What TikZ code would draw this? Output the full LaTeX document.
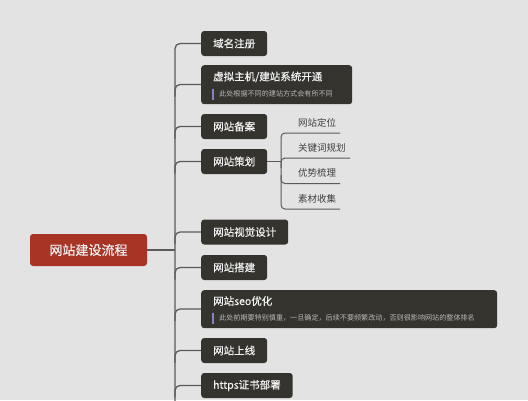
\documentclass[tikz,border=0pt]{standalone}
\usepackage{fontspec}
\newfontfamily\cjk{Noto Sans CJK SC}
\newfontfamily\cjkb[FakeBold=0.5]{Noto Sans CJK SC}
\definecolor{bg}{HTML}{E3E3E3}
\definecolor{nodefill}{HTML}{34332E}
\definecolor{rootfill}{HTML}{A83426}
\definecolor{linec}{HTML}{5A5A5A}
\definecolor{titlec}{HTML}{F2F2F2}
\definecolor{subc}{HTML}{B8B8B8}
\definecolor{barc}{HTML}{8484C4}
\definecolor{leafc}{HTML}{3E3E3E}
\tikzset{
  box/.style={fill=nodefill, rounded corners=3pt, text=titlec, inner xsep=12pt, inner ysep=0pt, minimum height=25pt, font=\cjkb\fontsize{10.5}{12}\selectfont, anchor=west},
  bigbox/.style={fill=nodefill, rounded corners=3pt, inner sep=0pt, anchor=north west},
  titletxt/.style={text=titlec, inner sep=0pt, anchor=west, font=\cjkb\fontsize{10.5}{12}\selectfont},
  subtxt/.style={text=subc, inner sep=0pt, anchor=west, font=\cjk\fontsize{7.1}{8}\selectfont},
  rootbox/.style={fill=rootfill, rounded corners=3pt, text=titlec, minimum width=117pt, minimum height=32pt, inner sep=0pt, font=\cjkb\fontsize{13}{15}\selectfont},
  leaf/.style={text=leafc, inner sep=0pt, anchor=west, font=\cjk\fontsize{9.5}{11}\selectfont},
  conn/.style={draw=linec, line width=1.3pt, rounded corners=5pt},
  leafline/.style={draw=linec, line width=1pt, rounded corners=4pt},
  bar/.style={draw=barc, line width=1.4pt},
}
\begin{document}
\begin{tikzpicture}[x=1pt,y=-1pt]
\fill[bg] (0,0) rectangle (528,400);
\useasboundingbox (0,0) rectangle (528,400);

% root
\node[rootbox] (root) at (88.5,250) {网站建设流程};

% children
\node[box] (c1) at (201,43.5) {域名注册};
\node[bigbox, minimum width=151pt, minimum height=39pt] (c2) at (201,65) {};
\node[titletxt] (c2t) at (213,77) {虚拟主机/建站系统开通};
\node[subtxt] (c2s) at (219,94) {此处根据不同的建站方式会有所不同};
\coordinate (c2b1) at (213,88.5);
\coordinate (c2b2) at (213,99.5);
\draw[bar] (c2b1) -- (c2b2);
\node[box] (c3) at (201,126.5) {网站备案};
\node[box] (c4) at (201,161.5) {网站策划};
\node[box] (c5) at (201,232) {网站视觉设计};
\node[box] (c6) at (201,267.5) {网站搭建};
\node[bigbox, minimum width=296pt, minimum height=38pt] (c7) at (201,290) {};
\node[titletxt] (c7t) at (213,301) {网站seo优化};
\node[subtxt] (c7s) at (219,318) {此处前期要特别慎重，一旦确定，后续不要频繁改动，否则很影响网站的整体排名};
\coordinate (c7b1) at (213,312.5);
\coordinate (c7b2) at (213,323.5);
\draw[bar] (c7b1) -- (c7b2);
\node[box] (c8) at (201,350.5) {网站上线};
\node[box] (c9) at (201,385.5) {https证书部署};

% trunk
\coordinate (tTop) at (175,43.5);
\coordinate (tBot) at (175,402);
\draw[conn] (root.east) -- (175,250);
\draw[conn] (c1.west) -- (tTop) -- (tBot);
\foreach \n/\y in {c2/84.5, c3/126.5, c4/161.5, c5/232, c6/267.5, c7/309, c8/350.5, c9/385.5}{
  \draw[conn] (175,\y+12) -- (175,\y) -- (201,\y);
}

% leaves of 网站策划
\node[leaf] (l1) at (298,122.5) {网站定位};
\node[leaf] (l2) at (298,148) {关键词规划};
\node[leaf] (l3) at (298,173) {优势梳理};
\node[leaf] (l4) at (298,198.5) {素材收集};
\coordinate (vx) at (281,161.5);
\draw[leafline] (c4.east) -- (vx);
\draw[leafline] (340,133) -- (281,133) -- (281,209) -- (340,209);
\draw[leafline] (281,168) -- (281,158) -- (350,158);
\draw[leafline] (281,175) -- (281,183.5) -- (340,183.5);
\end{tikzpicture}
\end{document}
